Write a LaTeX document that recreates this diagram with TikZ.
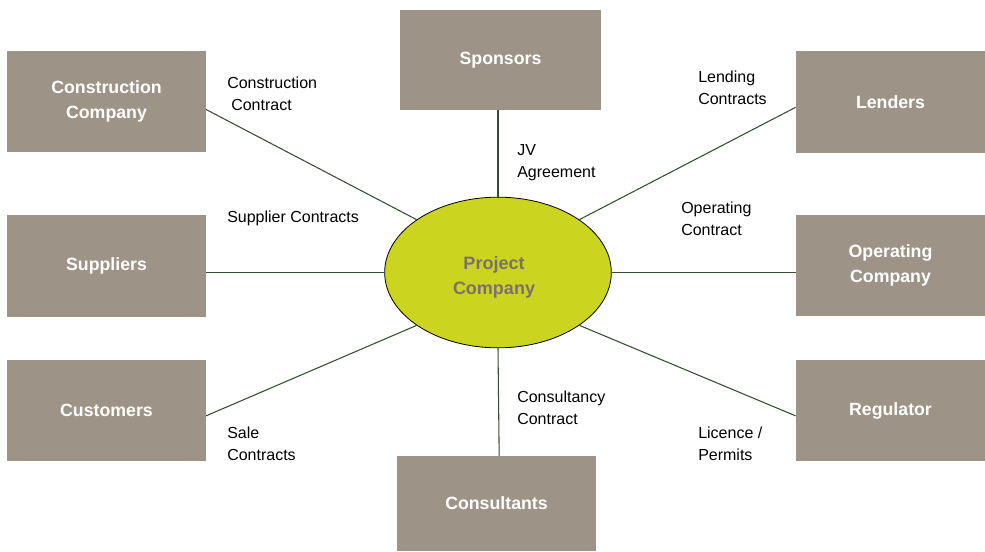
\documentclass[tikz,border=0pt]{standalone}
\usepackage{fontspec}
\setmainfont{Liberation Sans}
\usetikzlibrary{shapes.geometric}

\definecolor{partybrown}{RGB}{158,147,135}
\definecolor{spvgreen}{RGB}{203,212,30}
\definecolor{spvtext}{RGB}{122,113,110}
\definecolor{linkgreen}{RGB}{52,78,52}

\tikzset{
  party/.style={fill=partybrown, inner sep=0pt, minimum width=149pt, minimum height=76pt,
    text=white, align=center, font=\bfseries\fontsize{13.3}{18.75}\selectfont},
  spv/.style={ellipse, draw=black, line width=0.6pt, fill=spvgreen, inner sep=0pt,
    minimum width=170pt, minimum height=113pt},
  spvname/.style={text=spvtext, align=center, xshift=-3pt, yshift=-3.75pt,
    font=\bfseries\fontsize{13.5}{18.75}\selectfont},
  deal/.style={anchor=north west, inner sep=0pt, align=left,
    font=\fontsize{12}{16.5}\selectfont},
  link/.style={draw=linkgreen, line width=0.8pt}
}

\begin{document}
\begin{tikzpicture}[x=0.75pt, y=-0.75pt]

      \useasboundingbox (0, 0) rectangle (985, 551);

      % the parties round the project company
      \node[party] (cc) at (106.5, 101.5) {Construction\\Company};
      \node[party] (su) at (106.5, 266) {Suppliers};
      \node[party] (cu) at (106.5, 410.5) {Customers};
      \node[party, minimum width=151pt, minimum height=75pt] (sp) at (500.5, 60) {Sponsors};
      \node[party, minimum width=142pt] (le) at (890.5, 102) {Lenders};
      \node[party, minimum width=142pt] (oc) at (890.5, 265.5) {Operating\\Company};
      \node[party, minimum width=142pt] (re) at (890.5, 410.5) {Regulator};
      \node[party, minimum height=71pt] (cs) at (496.5, 503.5) {Consultants};

      \node[spv, label={[spvname]center:Project\\Company}] (pc) at (498, 272.5) {};

      % contracts
      \draw[link] ([yshift=-6pt]cc.east) -- (pc.147);
      \draw[link] (su.east |- pc) -- (pc.west);
      \draw[link] ([yshift=-4pt]cu.east) -- (pc.213);
      \draw[link] (sp.south -| pc) -- (pc.north);
      \draw[link] ([yshift=-4pt]le.west) -- (pc.33);
      \draw[link] (oc.west |- pc) -- (pc.east);
      \draw[link] ([yshift=-4pt]re.west) -- (pc.-33);
      \draw[link] (pc.south) -- ([xshift=2pt]cs.north);

      \node[deal] (l-cc) at (227, 77) {Construction\\\hspace{3pt}Contract};
      \node[deal] (l-su) at (227, 211) {Supplier Contracts};
      \node[deal] (l-cu) at (227, 427) {Sale\\Contracts};
      \node[deal] (l-sp) at (517, 144) {JV\\Agreement};
      \node[deal] (l-cs) at (517, 391) {Consultancy\\Contract};
      \node[deal] (l-le) at (698, 71) {Lending\\Contracts};
      \node[deal] (l-oc) at (681, 202) {Operating\\Contract};
      \node[deal] (l-re) at (698, 427) {Licence /\\Permits};

    \end{tikzpicture}
\end{document}
